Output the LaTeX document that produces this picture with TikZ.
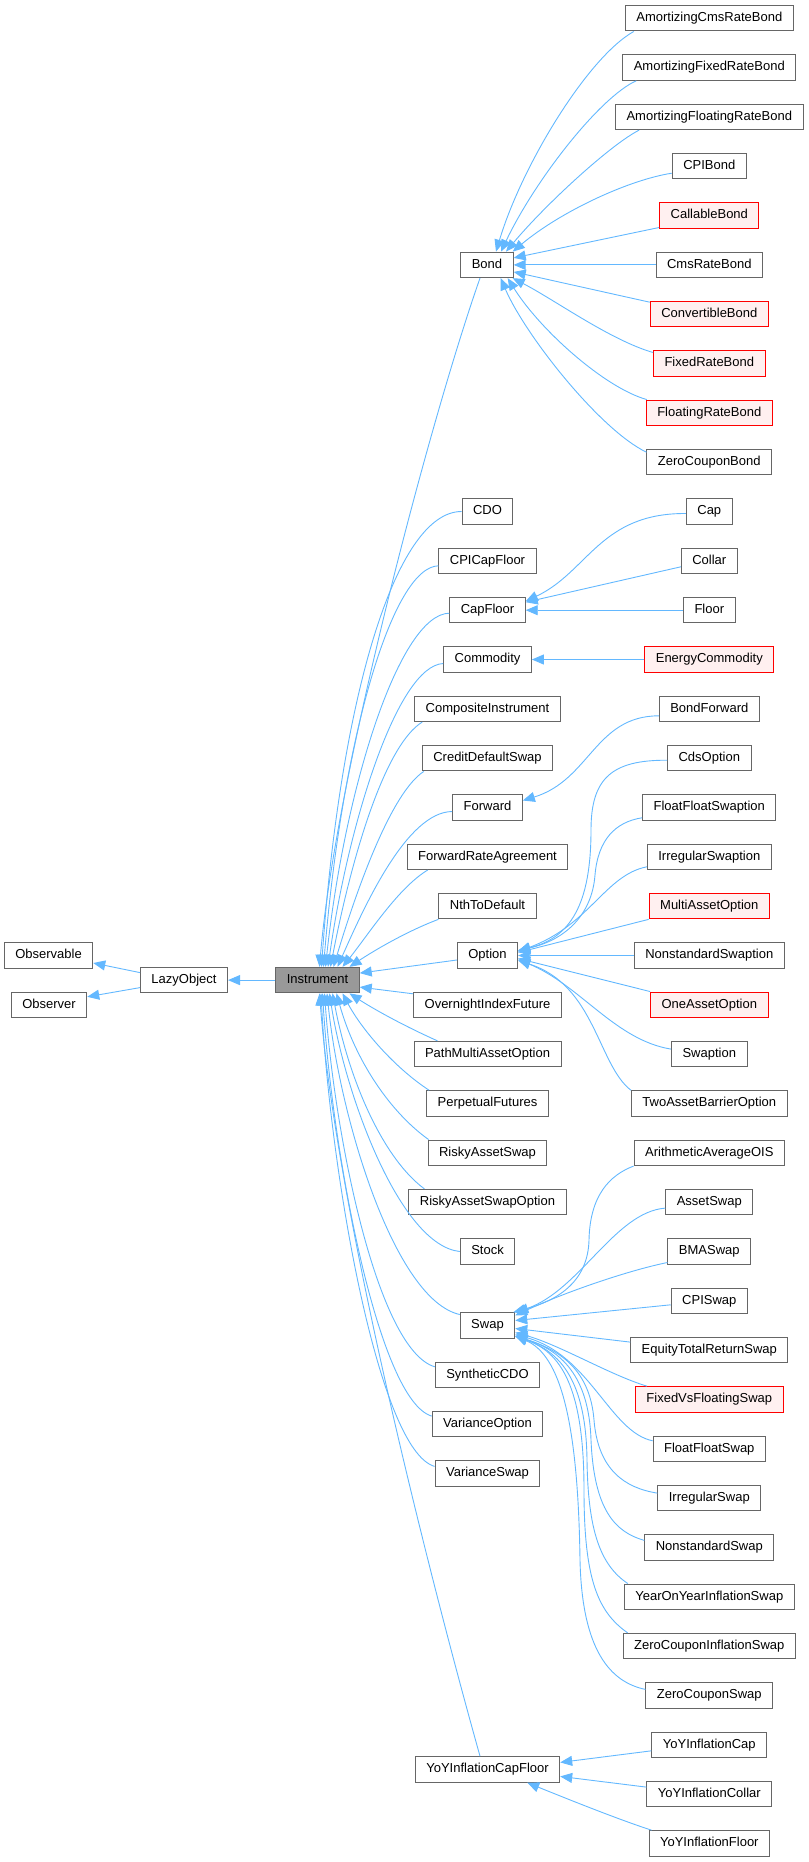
\documentclass[tikz,border=0pt]{standalone}
\usepackage{fontspec}
\setmainfont{Liberation Sans}
\usetikzlibrary{arrows.meta}
\definecolor{edgec}{HTML}{63B8FF}
\definecolor{boxc}{HTML}{666666}
\definecolor{redc}{HTML}{FF0000}
\definecolor{redfill}{HTML}{FFF0F0}
\definecolor{curfill}{HTML}{999999}
\begin{document}
\begin{tikzpicture}[x=1pt,y=-1pt,
 cls/.style={draw=boxc, line width=1pt, fill=white, minimum height=25.5pt, inner xsep=11pt, inner ysep=0pt, text height=9.4pt, text depth=2.6pt, font=\fontsize{13}{15}\selectfont},
 redcls/.style={cls, draw=redc, fill=redfill},
 curcls/.style={cls, fill=curfill},
 edge/.style={draw=edgec, line width=0.9pt, -{Triangle[length=12pt,width=10pt]}}]
\useasboundingbox (0,0) rectangle (808,1862);

% left part
\node[cls] (Observable) at (48.5,955.5) {Observable};
\node[cls] (Observer) at (49,1004.8) {Observer};
\node[cls] (LazyObject) at (184,980.1) {LazyObject};
\node[curcls] (Instrument) at (317.5,980.1) {Instrument};

% middle column
\node[cls] (Bond) at (487,264.9) {Bond};
\node[cls] (CDO) at (487.5,511.5) {CDO};
\node[cls] (CPICapFloor) at (487.5,560.8) {CPICapFloor};
\node[cls] (CapFloor) at (487.5,610.2) {CapFloor};
\node[cls] (Commodity) at (487.5,659.5) {Commodity};
\node[cls] (CompositeInstrument) at (487.5,708.8) {CompositeInstrument};
\node[cls] (CreditDefaultSwap) at (487.5,758.2) {CreditDefaultSwap};
\node[cls] (Forward) at (487.5,807.5) {Forward};
\node[cls] (ForwardRateAgreement) at (487.5,856.8) {ForwardRateAgreement};
\node[cls] (NthToDefault) at (487.5,906.1) {NthToDefault};
\node[cls] (Option) at (487.5,955.5) {Option};
\node[cls] (OvernightIndexFuture) at (487.5,1004.8) {OvernightIndexFuture};
\node[cls] (PathMultiAssetOption) at (487.5,1054.1) {PathMultiAssetOption};
\node[cls] (PerpetualFutures) at (487.5,1103.5) {PerpetualFutures};
\node[cls] (RiskyAssetSwap) at (487.5,1152.8) {RiskyAssetSwap};
\node[cls] (RiskyAssetSwapOption) at (487.5,1202.1) {RiskyAssetSwapOption};
\node[cls] (Stock) at (487.5,1251.5) {Stock};
\node[cls] (Swap) at (487.5,1325.5) {Swap};
\node[cls] (SyntheticCDO) at (487.5,1374.8) {SyntheticCDO};
\node[cls] (VarianceOption) at (487.5,1424.1) {VarianceOption};
\node[cls] (VarianceSwap) at (487.5,1473.4) {VarianceSwap};
\node[cls] (YoYInflationCapFloor) at (487.5,1769.4) {YoYInflationCapFloor};

% right column
\node[cls] (AmortizingCmsRateBond) at (709.3,18.2) {AmortizingCmsRateBond};
\node[cls] (AmortizingFixedRateBond) at (709.3,67.5) {AmortizingFixedRateBond};
\node[cls] (AmortizingFloatingRateBond) at (709.3,116.9) {AmortizingFloatingRateBond};
\node[cls] (CPIBond) at (709.3,166.2) {CPIBond};
\node[redcls] (CallableBond) at (709.3,215.5) {CallableBond};
\node[cls] (CmsRateBond) at (709.3,264.9) {CmsRateBond};
\node[redcls] (ConvertibleBond) at (709.3,314.2) {ConvertibleBond};
\node[redcls] (FixedRateBond) at (709.3,363.5) {FixedRateBond};
\node[redcls] (FloatingRateBond) at (709.3,412.8) {FloatingRateBond};
\node[cls] (ZeroCouponBond) at (709.3,462.2) {ZeroCouponBond};
\node[cls] (Cap) at (709.3,511.5) {Cap};
\node[cls] (Collar) at (709.3,560.8) {Collar};
\node[cls] (Floor) at (709.3,610.2) {Floor};
\node[redcls] (EnergyCommodity) at (709.3,659.5) {EnergyCommodity};
\node[cls] (BondForward) at (709.3,708.8) {BondForward};
\node[cls] (CdsOption) at (709.3,758.2) {CdsOption};
\node[cls] (FloatFloatSwaption) at (709.3,807.5) {FloatFloatSwaption};
\node[cls] (IrregularSwaption) at (709.3,856.8) {IrregularSwaption};
\node[redcls] (MultiAssetOption) at (709.3,906.1) {MultiAssetOption};
\node[cls] (NonstandardSwaption) at (709.3,955.5) {NonstandardSwaption};
\node[redcls] (OneAssetOption) at (709.3,1004.8) {OneAssetOption};
\node[cls] (Swaption) at (709.3,1054.1) {Swaption};
\node[cls] (TwoAssetBarrierOption) at (709.3,1103.5) {TwoAssetBarrierOption};
\node[cls] (ArithmeticAverageOIS) at (709.3,1152.8) {ArithmeticAverageOIS};
\node[cls] (AssetSwap) at (709.3,1202.1) {AssetSwap};
\node[cls] (BMASwap) at (709.3,1251.5) {BMASwap};
\node[cls] (CPISwap) at (709.3,1300.8) {CPISwap};
\node[cls] (EquityTotalReturnSwap) at (709.3,1350.1) {EquityTotalReturnSwap};
\node[redcls] (FixedVsFloatingSwap) at (709.3,1399.4) {FixedVsFloatingSwap};
\node[cls] (FloatFloatSwap) at (709.3,1448.8) {FloatFloatSwap};
\node[cls] (IrregularSwap) at (709.3,1498.1) {IrregularSwap};
\node[cls] (NonstandardSwap) at (709.3,1547.4) {NonstandardSwap};
\node[cls] (YearOnYearInflationSwap) at (709.3,1596.8) {YearOnYearInflationSwap};
\node[cls] (ZeroCouponInflationSwap) at (709.3,1646.1) {ZeroCouponInflationSwap};
\node[cls] (ZeroCouponSwap) at (709.3,1695.4) {ZeroCouponSwap};
\node[cls] (YoYInflationCap) at (709.3,1744.8) {YoYInflationCap};
\node[cls] (YoYInflationCollar) at (709.3,1794.1) {YoYInflationCollar};
\node[cls] (YoYInflationFloor) at (709.3,1843.4) {YoYInflationFloor};

% left edges
\draw[edge] ([yshift=7.5pt]LazyObject.west) -- ([yshift=-7.5pt]Observable.east);
\draw[edge] ([yshift=-7.5pt]LazyObject.west) -- ([yshift=8pt]Observer.east);
\draw[edge] (Instrument.west) -- (LazyObject.east);

% Instrument fan, upper
\draw[edge] ([xshift=-7pt]Bond.south) .. controls (430,420) and (335,780) .. ([xshift=2pt]Instrument.north);
\draw[edge] (CDO.west) .. controls (395,511.5) and (340,700) .. ([xshift=4pt]Instrument.north);
\draw[edge] ([yshift=-5pt]CPICapFloor.west) .. controls (392,567) and (342,740) .. ([xshift=6pt]Instrument.north);
\draw[edge] ([yshift=-3pt]CapFloor.west) .. controls (400,614) and (345,785) .. ([xshift=8pt]Instrument.north);
\draw[edge] ([yshift=-4pt]Commodity.west) .. controls (397,666) and (348,825) .. ([xshift=10.5pt]Instrument.north);
\draw[edge] ([xshift=8pt]CompositeInstrument.south west) .. controls (385,745) and (352,855) .. ([xshift=13pt]Instrument.north);
\draw[edge] ([xshift=2pt]CreditDefaultSwap.south west) .. controls (392,792) and (358,885) .. ([xshift=16pt]Instrument.north);
\draw[edge] ([yshift=-4pt]Forward.west) .. controls (407,812) and (365,905) .. ([xshift=20pt]Instrument.north);
\draw[edge] ([xshift=21pt]ForwardRateAgreement.south west) .. controls (398,888) and (368,935) .. ([xshift=25pt]Instrument.north);
\draw[edge] (NthToDefault.south west) .. controls (410,930) and (378,948) .. ([xshift=32pt]Instrument.north);
% Instrument fan, side
\draw[edge] ([yshift=-4.5pt]Option.west) -- ([yshift=7pt]Instrument.east);
\draw[edge] ([yshift=11pt]OvernightIndexFuture.west) -- ([yshift=-7pt]Instrument.east);
% Instrument fan, lower
\draw[edge] ([xshift=24pt]PathMultiAssetOption.north west) .. controls (402,1025) and (372,1008) .. ([xshift=32pt]Instrument.south);
\draw[edge] ([xshift=3pt]PerpetualFutures.north west) .. controls (395,1068) and (362,1030) .. ([xshift=25pt]Instrument.south);
\draw[edge] ([xshift=1pt]RiskyAssetSwap.north west) .. controls (390,1112) and (355,1060) .. ([xshift=19pt]Instrument.south);
\draw[edge] ([xshift=16pt]RiskyAssetSwapOption.north west) .. controls (385,1160) and (350,1085) .. ([xshift=15pt]Instrument.south);
\draw[edge] (Stock.west) .. controls (400,1245) and (345,1095) .. ([xshift=12pt]Instrument.south);
\draw[edge] ([yshift=11pt]Swap.west) .. controls (395,1300) and (340,1120) .. ([xshift=9.5pt]Instrument.south);
\draw[edge] ([yshift=8pt]SyntheticCDO.west) .. controls (378,1350) and (335,1140) .. ([xshift=7pt]Instrument.south);
\draw[edge] ([yshift=8pt]VarianceOption.west) .. controls (378,1400) and (332,1150) .. ([xshift=5pt]Instrument.south);
\draw[edge] ([yshift=7pt]VarianceSwap.west) .. controls (378,1450) and (330,1170) .. ([xshift=3.5pt]Instrument.south);
\draw[edge] ([xshift=-7.5pt]YoYInflationCapFloor.north) .. controls (425,1560) and (335,1200) .. ([xshift=2pt]Instrument.south);

% Bond fan
\draw[edge] ([xshift=9pt]AmortizingCmsRateBond.south west) .. controls (588,57) and (522,165) .. ([xshift=9pt]Bond.north);
\draw[edge] ([xshift=14pt]AmortizingFixedRateBond.south west) .. controls (600,97) and (535,180) .. ([xshift=14pt]Bond.north);
\draw[edge] ([xshift=24pt]AmortizingFloatingRateBond.south west) .. controls (610,145) and (545,205) .. ([xshift=19pt]Bond.north);
\draw[edge] ([yshift=-7pt]CPIBond.west) .. controls (628,180) and (560,212) .. ([xshift=-1pt]Bond.north east);
\draw[edge] ([yshift=-12pt]CallableBond.west) -- ([yshift=7pt]Bond.east);
\draw[edge] (CmsRateBond.west) -- (Bond.east);
\draw[edge] ([yshift=12pt]ConvertibleBond.west) -- ([yshift=-7pt]Bond.east);
\draw[edge] ([yshift=11pt]FixedRateBond.west) .. controls (610,340) and (555,300) .. ([xshift=-1pt]Bond.south east);
\draw[edge] ([xshift=1pt]FloatingRateBond.north west) .. controls (605,388) and (540,330) .. ([xshift=-6pt]Bond.south east);
\draw[edge] ([yshift=10pt]ZeroCouponBond.west) .. controls (600,430) and (525,335) .. ([xshift=-13pt]Bond.south east);

% CapFloor fan
\draw[edge] ([yshift=-2pt]Cap.west) .. controls (600,513) and (588,572) .. ([yshift=9pt]CapFloor.east);
\draw[edge] ([yshift=-6pt]Collar.west) -- ([yshift=8pt]CapFloor.east);
\draw[edge] (Floor.west) -- (CapFloor.east);

% Commodity
\draw[edge] (EnergyCommodity.west) -- (Commodity.east);

% Forward
\draw[edge] ([yshift=-7pt]BondForward.west) .. controls (595,716) and (590,780) .. ([yshift=7pt]Forward.east);

% Option fan
\draw[edge] ([yshift=-2pt]CdsOption.west) .. controls (612,760) and (591,778) .. (591,830) .. controls (591,905) and (570,938) .. ([yshift=5pt]Option.east);
\draw[edge] ([yshift=3pt]FloatFloatSwaption.south west) .. controls (615,822) and (598,840) .. (595,875) .. controls (592,915) and (565,940) .. ([yshift=5pt]Option.east);
\draw[edge] ([yshift=-10pt]IrregularSwaption.west) .. controls (605,875) and (590,925) .. ([yshift=4pt]Option.east);
\draw[edge] (MultiAssetOption.south west) -- ([yshift=3pt]Option.east);
\draw[edge] (NonstandardSwaption.west) -- (Option.east);
\draw[edge] (OneAssetOption.north west) -- ([yshift=-3pt]Option.east);
\draw[edge] ([yshift=5pt]Swaption.west) .. controls (615,1040) and (580,985) .. ([yshift=-4pt]Option.east);
\draw[edge] (TwoAssetBarrierOption.north west) .. controls (598,1065) and (595,985) .. ([yshift=-5pt]Option.east);

% Swap fan
\draw[edge] (ArithmeticAverageOIS.south west) .. controls (610,1175) and (590,1195) .. (589,1240) .. controls (588,1280) and (560,1300) .. ([xshift=-2pt]Swap.north east);
\draw[edge] ([yshift=-6pt]AssetSwap.west) .. controls (615,1212) and (580,1290) .. ([xshift=1pt]Swap.north east);
\draw[edge] ([yshift=-11pt]BMASwap.west) .. controls (630,1270) and (565,1292) .. ([yshift=10pt]Swap.east);
\draw[edge] ([yshift=-4pt]CPISwap.west) -- ([yshift=5pt]Swap.east);
\draw[edge] ([yshift=8pt]EquityTotalReturnSwap.west) -- ([yshift=-3pt]Swap.east);
\draw[edge] ([xshift=12pt]FixedVsFloatingSwap.north west) .. controls (610,1375) and (560,1345) .. ([yshift=-7pt]Swap.east);
\draw[edge] ([yshift=8pt]FloatFloatSwap.west) .. controls (610,1432) and (590,1355) .. ([yshift=-9pt]Swap.east);
\draw[edge] ([yshift=5pt]IrregularSwap.west) .. controls (625,1488) and (598,1470) .. (594,1420) .. controls (590,1370) and (560,1350) .. ([yshift=-10.5pt]Swap.east);
\draw[edge] ([yshift=7pt]NonstandardSwap.west) .. controls (615,1532) and (594,1510) .. (591,1440) .. controls (589,1375) and (560,1350) .. ([yshift=-10.5pt]Swap.east);
\draw[edge] ([xshift=4pt]YearOnYearInflationSwap.north west) .. controls (600,1565) and (588,1530) .. (587,1460) .. controls (586,1380) and (560,1352) .. ([yshift=-10.5pt]Swap.east);
\draw[edge] ([xshift=5pt]ZeroCouponInflationSwap.north west) .. controls (598,1612) and (584,1580) .. (584,1490) .. controls (584,1385) and (560,1352) .. ([yshift=-10.5pt]Swap.east);
\draw[edge] ([yshift=6pt]ZeroCouponSwap.west) .. controls (610,1682) and (582,1650) .. (580,1560) .. controls (578,1420) and (560,1355) .. ([yshift=-10.5pt]Swap.east);

% YoY fan
\draw[edge] ([yshift=-6pt]YoYInflationCap.west) -- ([yshift=7pt]YoYInflationCapFloor.east);
\draw[edge] ([yshift=7pt]YoYInflationCollar.west) -- ([yshift=-7pt]YoYInflationCapFloor.east);
\draw[edge] ([xshift=3pt]YoYInflationFloor.north west) .. controls (620,1820) and (570,1800) .. ([xshift=-33pt]YoYInflationCapFloor.south east);
\end{tikzpicture}
\end{document}
